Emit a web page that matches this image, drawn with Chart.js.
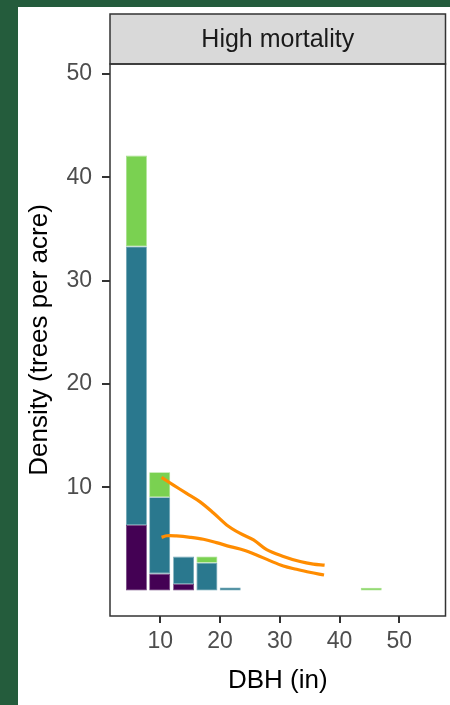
<!DOCTYPE html>
<html>
<head>
<meta charset="utf-8">
<script src="https://cdn.jsdelivr.net/npm/chart.js@4.4.1/dist/chart.umd.min.js"></script>
<style>
  html, body { margin: 0; padding: 0; background: #ffffff; }
  canvas { display: block; }
</style>
</head>
<body>
<canvas id="mortality-chart" width="450" height="705"></canvas>
<script>
// DBH bins (bin centres, inches)
const binCenters = [6.0, 9.9, 13.9, 17.8, 21.7, 45.3];

// stacked segment heights per bin (trees per acre), bottom to top
const purpleValues = [6.35, 1.63, 0.63, null, null, null];
const tealValues = [26.95, 7.4, 2.65, 2.69, 0.3, null];
const greenValues = [8.8, 2.42, null, 0.61, null, 0.27];

// orange curves
const upperLineX = [10.2, 12.2, 14.4, 16.6, 18.9, 21.1, 23.3, 25.6, 27.8, 30.6, 33.4, 35.6, 37.5];
const upperLineY = [10.95, 10.2, 9.4, 8.6, 7.5, 6.35, 5.55, 4.9, 3.95, 3.3, 2.8, 2.55, 2.45];
const lowerLineX = [10.2, 11.1, 12.7, 15.0, 17.2, 19.4, 21.7, 23.9, 26.1, 28.3, 30.6, 32.8, 35.0, 37.4];
const lowerLineY = [5.15, 5.3, 5.28, 5.15, 4.96, 4.63, 4.25, 3.92, 3.44, 2.89, 2.37, 2.05, 1.76, 1.5];

const xTicks = [10, 20, 30, 40, 50];
const yTicks = [10, 20, 30, 40, 50];

const stripLabel = "High mortality";
const xTitle = "DBH (in)";
const yTitle = "Density (trees per acre)";

const FONT = "'Liberation Sans', Arial, sans-serif";

function binPoints(values) {
  return binCenters.map((x, i) => ({ x: x, y: values[i] }));
}

function linePoints(xs, ys) {
  return xs.map((x, i) => ({ x: x, y: ys[i] }));
}

function barSet(label, values, fill, edge) {
  return {
    type: "bar",
    label: label,
    data: binPoints(values),
    backgroundColor: fill,
    borderColor: edge,
    borderWidth: 0.8,
    borderSkipped: false,
    barPercentage: 0.9,
    categoryPercentage: 1,
    stack: "bins",
    order: 1,
  };
}

function lineSet(label, xs, ys) {
  return {
    type: "line",
    label: label,
    data: linePoints(xs, ys),
    borderColor: "#ff8c00",
    borderWidth: 3.2,
    pointRadius: 0,
    tension: 0.35,
    fill: false,
    stack: label,
    order: 0,
  };
}

// background, facet strip and panel border
const panelDecor = {
  id: "panelDecor",
  beforeDraw(chart) {
    const { ctx, chartArea } = chart;
    ctx.save();
    ctx.fillStyle = "#245c3c";
    ctx.fillRect(0, 0, chart.width, chart.height);
    ctx.fillStyle = "#ffffff";
    ctx.fillRect(18, 7, chart.width - 18, chart.height - 7);

    const stripTop = 14;
    ctx.fillStyle = "#d9d9d9";
    ctx.fillRect(chartArea.left, stripTop, chartArea.right - chartArea.left, chartArea.top - stripTop);
    ctx.strokeStyle = "#333333";
    ctx.lineWidth = 1.5;
    ctx.strokeRect(chartArea.left, stripTop, chartArea.right - chartArea.left, chartArea.top - stripTop);
    ctx.fillStyle = "#1a1a1a";
    ctx.font = "25px " + FONT;
    ctx.textAlign = "center";
    ctx.textBaseline = "middle";
    ctx.fillText(stripLabel, (chartArea.left + chartArea.right) / 2, (stripTop + chartArea.top) / 2 + 1);
    ctx.restore();
  },
  afterDraw(chart) {
    const { ctx, chartArea } = chart;
    ctx.save();
    ctx.strokeStyle = "#333333";
    ctx.lineWidth = 1.5;
    ctx.strokeRect(chartArea.left, chartArea.top, chartArea.right - chartArea.left, chartArea.bottom - chartArea.top);
    ctx.restore();
  },
};

new Chart(document.getElementById("mortality-chart"), {
  type: "bar",
  data: {
    datasets: [
      barSet("Low", purpleValues, "#440154", "#6a3d78"),
      barSet("Mid", tealValues, "#2a788e", "#6aa2b2"),
      barSet("High", greenValues, "#7ad151", "#a3e087"),
      lineSet("upper", upperLineX, upperLineY),
      lineSet("lower", lowerLineX, lowerLineY),
    ],
  },
  options: {
    responsive: false,
    animation: false,
    layout: { padding: { left: 18, top: 64, right: 4.5, bottom: 0 } },
    plugins: {
      legend: { display: false },
      tooltip: { enabled: false },
    },
    scales: {
      x: {
        type: "linear",
        offset: false,
        min: 1.58,
        max: 57.73,
        afterBuildTicks: (scale) => { scale.ticks = xTicks.map((v) => ({ value: v })); },
        afterFit: (scale) => { scale.height = 89; },
        border: { display: false },
        grid: { drawOnChartArea: false, offset: false, tickLength: 7, tickColor: "#333333", lineWidth: 2 },
        ticks: { color: "#4d4d4d", font: { family: FONT, size: 23 }, padding: 5, maxRotation: 0 },
        title: { display: true, text: xTitle, color: "#000000", font: { family: FONT, size: 26, lineHeight: 1.2 }, padding: { top: 0, bottom: 9 } },
      },
      y: {
        stacked: true,
        min: -2.47,
        max: 50.97,
        afterBuildTicks: (scale) => { scale.ticks = yTicks.map((v) => ({ value: v })); },
        afterFit: (scale) => { scale.width = 92; },
        border: { display: false },
        grid: { drawOnChartArea: false, tickLength: 8, tickColor: "#333333", lineWidth: 2 },
        ticks: { color: "#4d4d4d", font: { family: FONT, size: 23 }, padding: 10 },
        title: { display: true, text: yTitle, color: "#000000", font: { family: FONT, size: 26, lineHeight: 1.2 }, padding: { top: 6, bottom: 0 } },
      },
    },
  },
  plugins: [panelDecor],
});
</script>
</body>
</html>
